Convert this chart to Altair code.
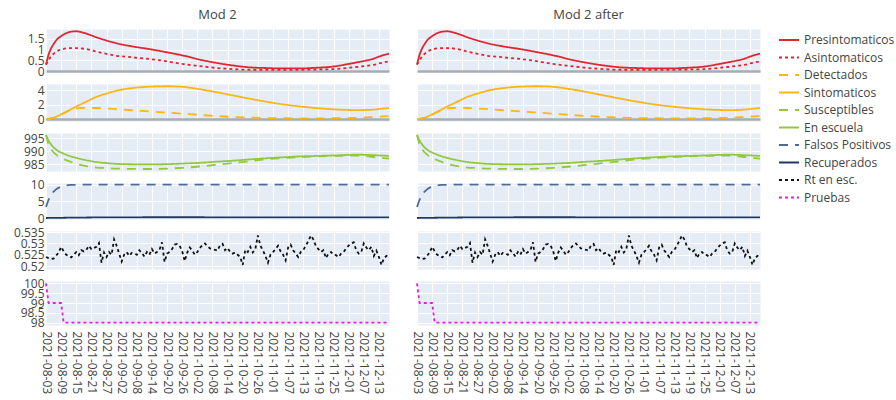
import altair as alt
import pandas as pd

inicio = pd.Timestamp("2021-08-03")

# days since the start date at which the smooth compartments are sampled
dias = [0, 1, 2, 3, 4, 6, 8, 10, 12, 14, 17, 20, 24, 28, 34, 41, 48, 54, 61, 67,
        74, 81, 87, 94, 100, 107, 114, 120, 124, 127, 130, 132, 136]

presintomaticos = [0.30, 0.75, 1.05, 1.25, 1.42, 1.62, 1.76, 1.83, 1.85, 1.81, 1.70,
                   1.57, 1.42, 1.29, 1.15, 1.02, 0.87, 0.73, 0.53, 0.39, 0.26, 0.17,
                   0.14, 0.12, 0.12, 0.15, 0.21, 0.33, 0.42, 0.49, 0.58, 0.67, 0.81]
asintomaticos = [0.30, 0.50, 0.68, 0.80, 0.90, 1.00, 1.05, 1.07, 1.07, 1.05, 1.00,
                 0.90, 0.80, 0.71, 0.64, 0.56, 0.45, 0.33, 0.23, 0.15, 0.09, 0.06,
                 0.06, 0.06, 0.06, 0.07, 0.09, 0.15, 0.20, 0.24, 0.29, 0.35, 0.45]
detectados = [0.0, 0.05, 0.13, 0.22, 0.35, 0.68, 0.98, 1.30, 1.50, 1.56, 1.58,
              1.56, 1.50, 1.40, 1.25, 1.10, 0.93, 0.78, 0.60, 0.46, 0.33, 0.24,
              0.18, 0.15, 0.14, 0.14, 0.15, 0.18, 0.22, 0.27, 0.32, 0.36, 0.45]
sintomaticos = [0.0, 0.05, 0.13, 0.22, 0.35, 0.68, 1.05, 1.40, 1.78, 2.10, 2.60,
                3.10, 3.55, 3.95, 4.30, 4.50, 4.56, 4.48, 4.15, 3.78, 3.30, 2.83,
                2.45, 2.06, 1.80, 1.56, 1.38, 1.29, 1.27, 1.29, 1.35, 1.42, 1.56]
susceptibles = [996.2, 992.6, 990.8, 989.6, 988.7, 987.5, 986.6, 985.9, 985.2, 984.7,
                984.2, 983.8, 983.6, 983.4, 983.3, 983.25, 983.4, 983.7, 984.2, 984.8,
                985.5, 986.2, 986.9, 987.4, 987.7, 988.0, 988.2, 988.3, 988.3, 988.1,
                987.8, 987.6, 987.2]
en_escuela = [996.2, 994.0, 992.6, 991.5, 990.6, 989.5, 988.7, 988.0, 987.5, 987.0,
              986.4, 985.9, 985.5, 985.2, 985.05, 985.0, 985.1, 985.3, 985.6, 986.0,
              986.4, 986.9, 987.3, 987.7, 988.0, 988.2, 988.4, 988.6, 988.7, 988.6,
              988.5, 988.4, 988.2]
falsos_positivos = [3.3, 5.4, 6.9, 7.9, 8.6, 9.4, 9.8, 9.93, 9.97, 9.99, 10.0,
                    10.0, 10.0, 10.0, 10.0, 10.0, 10.0, 10.0, 10.0, 10.0, 10.0, 10.0,
                    10.0, 10.0, 10.0, 10.0, 10.0, 10.0, 10.0, 10.0, 10.0, 10.0, 10.0]
recuperados = [0.0, 0.01, 0.02, 0.03, 0.04, 0.06, 0.08, 0.10, 0.12, 0.13, 0.15,
               0.17, 0.19, 0.20, 0.21, 0.22, 0.22, 0.22, 0.22, 0.21, 0.21, 0.20,
               0.20, 0.19, 0.19, 0.18, 0.18, 0.17, 0.17, 0.17, 0.17, 0.16, 0.16]

# daily reproduction number inside the school
rt_en_esc = [
    0.5240, 0.5235, 0.5232, 0.5233, 0.5245, 0.5260, 0.5285, 0.5265, 0.5250, 0.5245,
    0.5238, 0.5250, 0.5262, 0.5248, 0.5270, 0.5265, 0.5272, 0.5290, 0.5275, 0.5280,
    0.5285, 0.5302, 0.5215, 0.5260, 0.5240, 0.5262, 0.5250, 0.5318, 0.5290, 0.5255,
    0.5220, 0.5250, 0.5262, 0.5245, 0.5258, 0.5255, 0.5250, 0.5270, 0.5258, 0.5242,
    0.5262, 0.5250, 0.5275, 0.5255, 0.5262, 0.5272, 0.5305, 0.5218, 0.5255, 0.5262,
    0.5275, 0.5295, 0.5298, 0.5290, 0.5265, 0.5222, 0.5260, 0.5282, 0.5268, 0.5250,
    0.5262, 0.5280, 0.5292, 0.5300, 0.5288, 0.5278, 0.5275, 0.5272, 0.5268, 0.5292,
    0.5298, 0.5270, 0.5280, 0.5262, 0.5255, 0.5260, 0.5250, 0.5240, 0.5205, 0.5272,
    0.5262, 0.5285, 0.5260, 0.5275, 0.5335, 0.5290, 0.5270, 0.5245, 0.5215, 0.5250,
    0.5262, 0.5275, 0.5290, 0.5265, 0.5250, 0.5225, 0.5282, 0.5295, 0.5270, 0.5255,
    0.5240, 0.5262, 0.5270, 0.5290, 0.5310, 0.5335, 0.5318, 0.5288, 0.5275, 0.5262,
    0.5270, 0.5235, 0.5255, 0.5262, 0.5250, 0.5248, 0.5240, 0.5255, 0.5262, 0.5278,
    0.5290, 0.5300, 0.5305, 0.5270, 0.5255, 0.5262, 0.5300, 0.5282, 0.5270, 0.5285,
    0.5245, 0.5268, 0.5240, 0.5205, 0.5235, 0.5245, 0.5240,
]
rt_dias = list(range(len(rt_en_esc)))

pruebas_dias = [0, 1, 6, 7, 136]
pruebas = [100, 99, 99, 98, 98]

series = ["Presintomaticos", "Asintomaticos", "Detectados", "Sintomaticos",
          "Susceptibles", "En escuela", "Falsos Positivos", "Recuperados",
          "Rt en esc.", "Pruebas"]
colores = ["#e0262f", "#e0262f", "#fbb614", "#fbb614", "#93c83e", "#93c83e",
           "#4b6a94", "#22395f", "#111111", "#e01ee0"]
trazos = [[1, 0], [3, 3], [9, 7], [1, 0], [9, 7], [1, 0], [9, 7], [1, 0], [3, 3], [3, 3]]

modelos = ["Mod 2", "Mod 2 after"]


def tabla(nombre, d, v):
    return pd.DataFrame({
        "fecha": inicio + pd.to_timedelta(d, unit="D"),
        "valor": v,
        "serie": nombre,
    })


filas = [
    dict(trazas=[("Presintomaticos", dias, presintomaticos),
                 ("Asintomaticos", dias, asintomaticos)],
         dominio=[-0.045, 1.955], ticks=[0, 0.5, 1, 1.5], alto=43, interp="monotone"),
    dict(trazas=[("Detectados", dias, detectados),
                 ("Sintomaticos", dias, sintomaticos)],
         dominio=[-0.23, 4.87], ticks=[0, 2, 4], alto=37, interp="monotone"),
    dict(trazas=[("Susceptibles", dias, susceptibles),
                 ("En escuela", dias, en_escuela)],
         dominio=[982.5, 996.9], ticks=[985, 990, 995], alto=38, interp="monotone"),
    dict(trazas=[("Falsos Positivos", dias, falsos_positivos),
                 ("Recuperados", dias, recuperados)],
         dominio=[-0.3, 10.5], ticks=[0, 5, 10], alto=36, interp="monotone"),
    dict(trazas=[("Rt en esc.", rt_dias, rt_en_esc)],
         dominio=[0.5187, 0.5355], ticks=[0.52, 0.525, 0.53, 0.535], alto=38,
         interp="linear"),
    dict(trazas=[("Pruebas", pruebas_dias, pruebas)],
         dominio=[97.88, 100.12], ticks=[98, 98.5, 99, 99.5, 100], alto=44,
         interp="linear"),
]

ticks_x = [alt.DateTime(year=f.year, month=f.month, date=f.day)
           for f in pd.date_range("2021-08-03", "2021-12-13", freq="6D")]
dominio_x = [alt.DateTime(year=2021, month=8, date=3),
             alt.DateTime(year=2021, month=12, date=17)]

escala_color = alt.Scale(domain=series, range=colores)
escala_trazo = alt.Scale(domain=series, range=trazos)

leyenda = alt.Legend(
    title=None, orient="none", legendX=732, legendY=0, padding=0,
    symbolType="stroke", symbolSize=400, symbolStrokeWidth=1.8,
    labelFont="Open Sans", labelFontSize=12, labelColor="#444",
    labelOffset=4, rowPadding=0.5,
)

# the zero gridline of the first two rows is drawn as a grey baseline
gris_cero = alt.condition("datum.value === 0", alt.value("#a8adb5"), alt.value("white"))
ancho_cero = alt.condition("datum.value === 0", alt.value(2.5), alt.value(1))

paneles = []
for i, fila in enumerate(filas):
    datos = pd.concat([tabla(n, d, v) for n, d, v in fila["trazas"]], ignore_index=True)
    for j, modelo in enumerate(modelos):
        eje_x = alt.Axis(
            values=ticks_x, format="%Y-%m-%d", labelAngle=90, title=None,
            labels=(i == len(filas) - 1), labelFlush=False, labelOverlap=False,
            labelPadding=6,
        )
        opciones_y = dict(
            values=fila["ticks"], format="~r", title=None, labels=(j == 0),
            labelOverlap=False, labelPadding=2,
        )
        if i < 2:
            opciones_y.update(gridColor=gris_cero, gridWidth=ancho_cero)
        eje_y = alt.Axis(**opciones_y)
        panel = alt.Chart(datos).mark_line(
            strokeWidth=1.8, interpolate=fila["interp"]
        ).encode(
            x=alt.X("fecha:T", scale=alt.Scale(domain=dominio_x), axis=eje_x),
            y=alt.Y("valor:Q", scale=alt.Scale(domain=fila["dominio"], nice=False,
                                                zero=False), axis=eje_y),
            color=alt.Color("serie:N", scale=escala_color, legend=leyenda),
            strokeDash=alt.StrokeDash("serie:N", scale=escala_trazo, legend=leyenda),
        ).properties(width=343, height=fila["alto"])
        if i == 0:
            panel = panel.properties(title=alt.TitleParams(
                modelo, font="Open Sans", fontSize=13, fontWeight="normal",
                color="#444", offset=6))
        paneles.append(panel)

chart = alt.concat(
    *paneles, columns=2, spacing={"row": 12, "column": 28}, bounds="flush"
).properties(
    padding={"left": 13, "top": 8, "right": 0, "bottom": 0}
).configure_view(
    fill="#E5ECF6", strokeOpacity=0
).configure_axis(
    domain=False, ticks=False, labelColor="#444", labelFont="Open Sans",
    labelFontSize=12, gridColor="white", gridWidth=1,
)

chart.save("out.html", embed_options={"renderer": "svg", "actions": False})
